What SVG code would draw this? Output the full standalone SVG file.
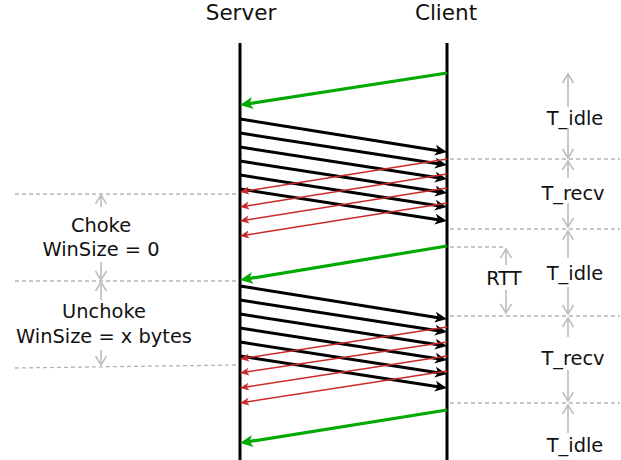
<svg xmlns="http://www.w3.org/2000/svg" width="621" height="460" viewBox="0 0 621 460">
<style>
text{font-family:"DejaVu Sans","Liberation Sans",sans-serif;fill:#111;text-anchor:middle}
.title{font-size:21.5px}
.lbl{font-size:19.4px}
.life{stroke:#000;stroke-width:3}
.blk{stroke:#000;stroke-width:3;fill:none;marker-end:url(#mb)}
.grn{stroke:#00aa00;stroke-width:3.2;fill:none;marker-end:url(#mg)}
.red{stroke:#cc2a2a;stroke-width:1.5;fill:none;marker-end:url(#mr)}
.gry{stroke:#bdbdbd;stroke-width:1.6;fill:none;marker-end:url(#mv)}
.dash{stroke:#b5b5b5;stroke-width:1.3;stroke-dasharray:4 3;fill:none}
</style>
<defs>
<marker id="mb" markerUnits="userSpaceOnUse" markerWidth="14" markerHeight="13" refX="8" refY="5.5" orient="auto" overflow="visible"><path d="M0,0 L12,5.5 L0,11 L3,5.5 Z" fill="#000"/></marker>
<marker id="mg" markerUnits="userSpaceOnUse" markerWidth="15" markerHeight="14" refX="9" refY="6" orient="auto" overflow="visible"><path d="M0,0 L13,6 L0,12 L3.5,6 Z" fill="#00aa00"/></marker>
<marker id="mr" markerUnits="userSpaceOnUse" markerWidth="11" markerHeight="10" refX="6" refY="4" orient="auto" overflow="visible"><path d="M0,0 L9,4 L0,8 L2.2,4 Z" fill="#cc2a2a"/></marker>
<marker id="mv" markerUnits="userSpaceOnUse" markerWidth="12" markerHeight="13" refX="9" refY="5.5" orient="auto" overflow="visible"><path d="M0,0 L9,5.5 L0,11" fill="none" stroke="#bdbdbd" stroke-width="1.5"/></marker>
</defs>

<g id="server">
<text class="title" x="241" y="20">Server</text>
<line class="life" x1="240" y1="43" x2="240" y2="460"/>
</g>
<g id="client">
<text class="title" x="446" y="20">Client</text>
<line class="life" x1="447" y1="43" x2="447" y2="460"/>
</g>

<g id="guides">
<line class="dash" x1="450" y1="159" x2="620" y2="159"/>
<line class="dash" x1="450" y1="229" x2="620" y2="229"/>
<line class="dash" x1="450" y1="316" x2="620" y2="316"/>
<line class="dash" x1="450" y1="403" x2="620" y2="403"/>
<line class="dash" x1="450" y1="247" x2="505" y2="247"/>
<line class="dash" x1="15" y1="194" x2="236" y2="194"/>
<line class="dash" x1="15" y1="281" x2="236" y2="281"/>
<line class="dash" x1="15" y1="368" x2="236" y2="365"/>
</g>

<g id="connectors">
<line class="grn" x1="447" y1="73" x2="244" y2="104.4"/>
<line class="blk" x1="240" y1="119" x2="443" y2="151.4"/>
<line class="blk" x1="240" y1="133" x2="443" y2="164.4"/>
<line class="blk" x1="240" y1="147" x2="443" y2="178.4"/>
<line class="blk" x1="240" y1="161" x2="443" y2="192.4"/>
<line class="blk" x1="240" y1="175" x2="443" y2="206.4"/>
<line class="blk" x1="240" y1="189" x2="443" y2="220.4"/>
<line class="red" x1="447" y1="159" x2="243" y2="191.5"/>
<line class="red" x1="447" y1="174" x2="243" y2="206.5"/>
<line class="red" x1="447" y1="188" x2="243" y2="220.5"/>
<line class="red" x1="447" y1="203" x2="243" y2="235.5"/>

<line class="grn" x1="447" y1="246" x2="244" y2="279.4"/>
<line class="blk" x1="240" y1="286" x2="443" y2="318.4"/>
<line class="blk" x1="240" y1="300" x2="443" y2="331.4"/>
<line class="blk" x1="240" y1="314" x2="443" y2="345.4"/>
<line class="blk" x1="240" y1="328" x2="443" y2="359.4"/>
<line class="blk" x1="240" y1="342" x2="443" y2="373.4"/>
<line class="blk" x1="240" y1="356" x2="443" y2="387.4"/>
<line class="red" x1="447" y1="327" x2="243" y2="358.5"/>
<line class="red" x1="447" y1="342" x2="243" y2="372.5"/>
<line class="red" x1="447" y1="356" x2="243" y2="387.5"/>
<line class="red" x1="447" y1="371" x2="243" y2="402.5"/>

<line class="grn" x1="447" y1="410" x2="244" y2="442.4"/>
</g>

<g id="choke">
<line class="gry" x1="101" y1="207" x2="101" y2="195"/>
<text class="lbl" x="101" y="232">Choke</text>
<text class="lbl" x="101" y="256">WinSize = 0</text>
<line class="gry" x1="101" y1="262" x2="101" y2="280"/>
</g>
<g id="unchoke">
<line class="gry" x1="101" y1="300" x2="101" y2="282"/>
<text class="lbl" x="104" y="318">Unchoke</text>
<text class="lbl" x="104" y="343">WinSize = x bytes</text>
<line class="gry" x1="101" y1="350" x2="101" y2="365"/>
</g>

<g id="t_idle_1">
<line class="gry" x1="568" y1="107" x2="568" y2="74"/>
<text class="lbl" x="575" y="125">T_idle</text>
<line class="gry" x1="568" y1="128" x2="568" y2="158"/>
</g>
<g id="t_recv_1">
<line class="gry" x1="568" y1="178" x2="568" y2="161"/>
<text class="lbl" x="573" y="200">T_recv</text>
<line class="gry" x1="568" y1="203" x2="568" y2="227"/>
</g>
<g id="t_idle_2">
<line class="gry" x1="568" y1="258" x2="568" y2="231"/>
<text class="lbl" x="575" y="280">T_idle</text>
<line class="gry" x1="568" y1="287" x2="568" y2="314"/>
</g>
<g id="t_recv_2">
<line class="gry" x1="568" y1="337" x2="568" y2="318"/>
<text class="lbl" x="573" y="365">T_recv</text>
<line class="gry" x1="568" y1="370" x2="568" y2="401"/>
</g>
<g id="t_idle_3">
<line class="gry" x1="568" y1="433" x2="568" y2="405"/>
<text class="lbl" x="575" y="452">T_idle</text>
</g>
<g id="rtt">
<line class="gry" x1="506" y1="265" x2="506" y2="249"/>
<text class="lbl" x="504" y="285">RTT</text>
<line class="gry" x1="506" y1="290" x2="506" y2="313"/>
</g>
</svg>
